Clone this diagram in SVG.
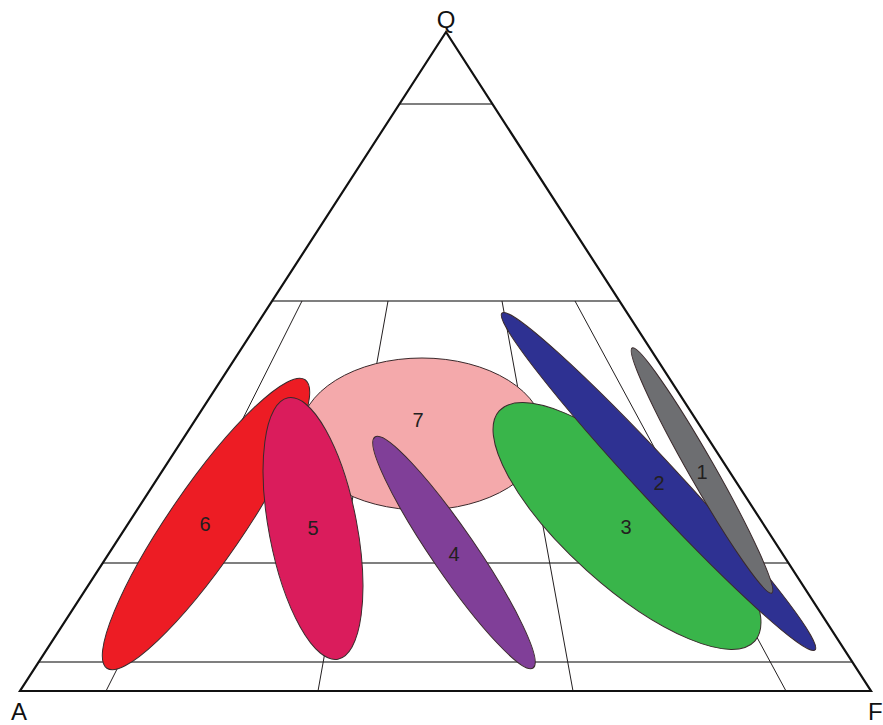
<svg xmlns="http://www.w3.org/2000/svg" width="883" height="725" viewBox="0 0 883 725">
<style>
.grid{stroke:#555;stroke-width:1.5;fill:none}
.tie{stroke:#231F20;stroke-width:1;fill:none}
.frame{stroke:#111;stroke-width:2.2;fill:none;stroke-linejoin:miter}
.ell{stroke:#3a2a2c;stroke-width:1}
.num{font-family:"Liberation Sans",Arial,sans-serif;font-size:20px;fill:#231F20;text-anchor:middle}
.corner{font-family:"Liberation Sans",Arial,sans-serif;font-size:24px;fill:#111}
</style>
<rect width="883" height="725" fill="#fff"/>
<g id="grid">
<line class="grid" x1="399.5" y1="104" x2="492.4" y2="104"/>
<line class="grid" x1="272.1" y1="301" x2="619.5" y2="301"/>
<line class="grid" x1="102.8" y1="563" x2="788.4" y2="563"/>
<line class="grid" x1="38.8" y1="662" x2="852.3" y2="662"/>
<line class="tie" x1="302" y1="301" x2="106" y2="691"/>
<line class="tie" x1="388" y1="301" x2="318" y2="691"/>
<line class="tie" x1="502" y1="301" x2="573" y2="691"/>
<line class="tie" x1="575" y1="301" x2="786" y2="691"/>
</g>
<g id="triangle">
<polygon class="frame" points="446,32 20,691 871,691"/>
</g>
<g id="field7">
<ellipse class="ell" cx="422" cy="434" rx="122" ry="76" fill="#F4A9AB"/>
<text class="num" x="418" y="427">7</text>
</g>
<g id="field6">
<ellipse class="ell" cx="206" cy="524" rx="175" ry="37" fill="#ED1C24" transform="rotate(-55.5 206 524)"/>
<text class="num" x="205" y="531">6</text>
</g>
<g id="field5">
<ellipse class="ell" cx="313" cy="528.5" rx="44" ry="133" fill="#DA1C5C" transform="rotate(-10.8 313 528.5)"/>
<text class="num" x="313" y="535">5</text>
</g>
<g id="field4">
<ellipse class="ell" cx="454" cy="552.5" rx="140" ry="22" fill="#803F98" transform="rotate(55.6 454 552.5)"/>
<text class="num" x="454" y="561">4</text>
</g>
<g id="field3">
<ellipse class="ell" cx="627" cy="526" rx="172" ry="60" fill="#39B54A" transform="rotate(42 627 526)"/>
<text class="num" x="626" y="534">3</text>
</g>
<g id="field2">
<ellipse class="ell" cx="658.5" cy="481.5" rx="230" ry="20" fill="#2E3192" transform="rotate(47.1 658.5 481.5)"/>
<text class="num" x="659" y="490">2</text>
</g>
<g id="field1">
<ellipse class="ell" cx="702" cy="470.5" rx="141" ry="13" fill="#6D6E71" transform="rotate(60.3 702 470.5)"/>
<text class="num" x="702" y="479">1</text>
</g>
<g id="labels">
<text class="corner" x="446" y="28" text-anchor="middle">Q</text>
<text class="corner" x="19" y="720" text-anchor="middle">A</text>
<text class="corner" x="868" y="720">F</text>
</g>
</svg>
